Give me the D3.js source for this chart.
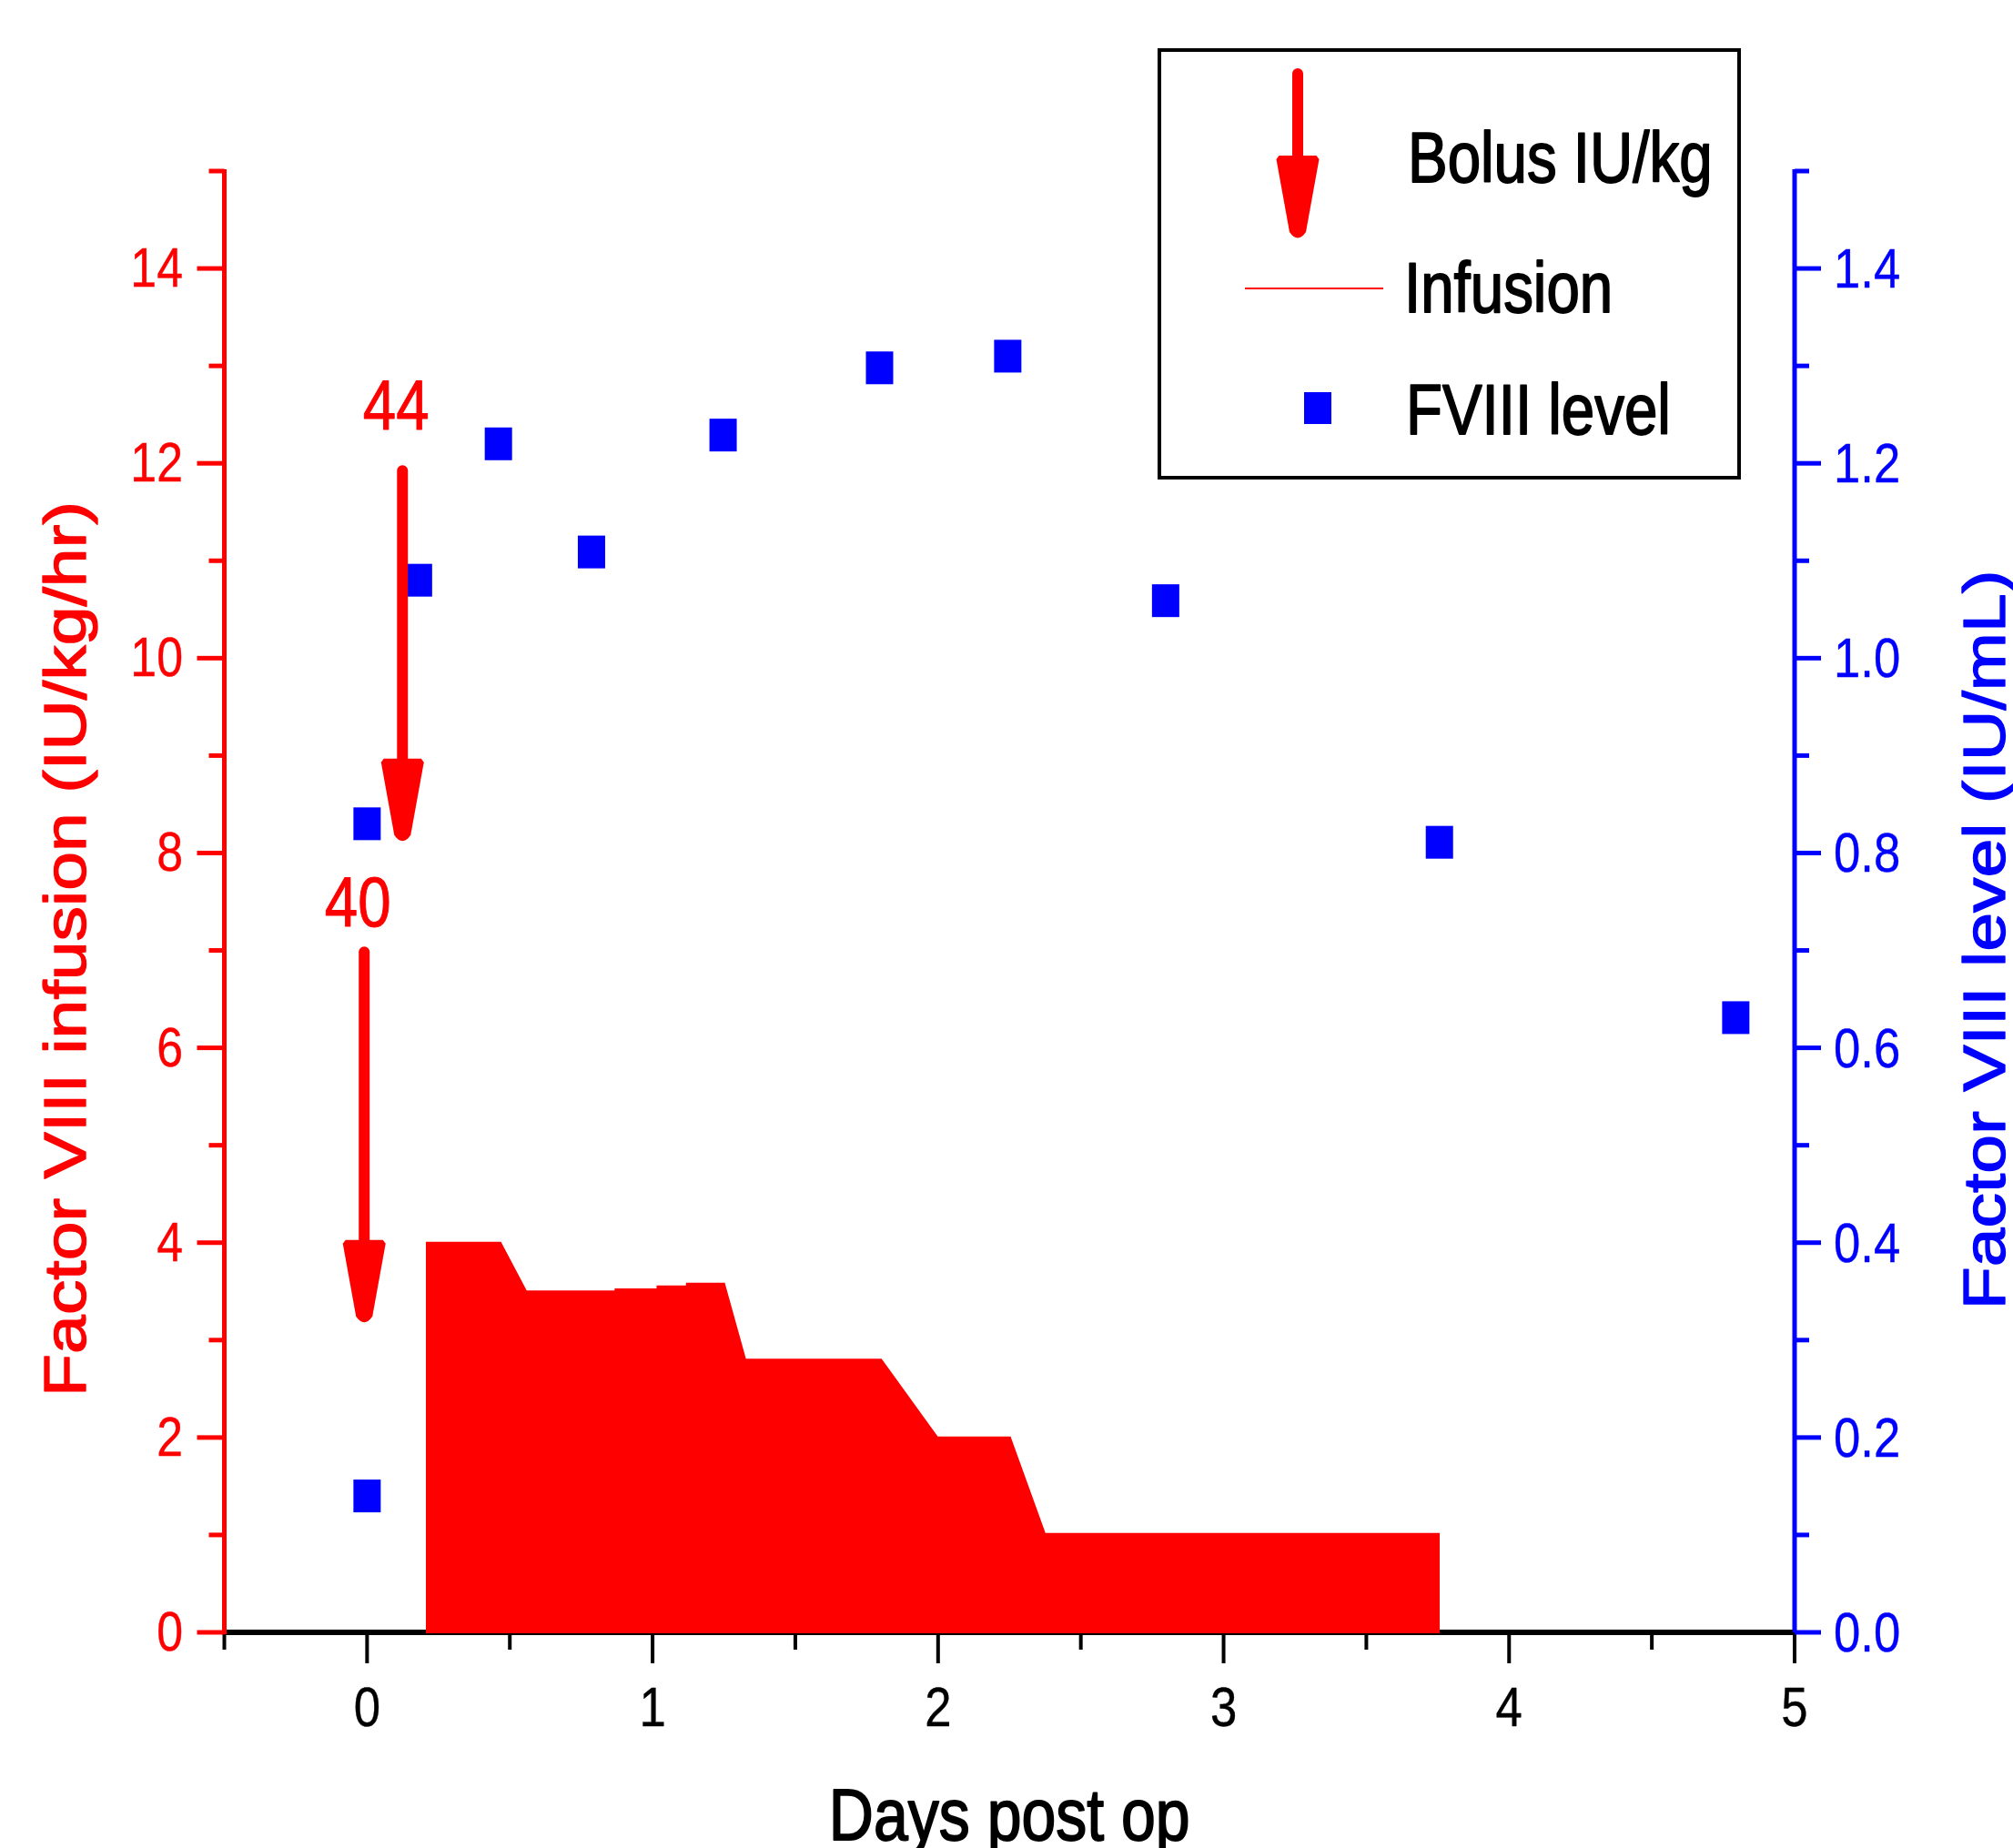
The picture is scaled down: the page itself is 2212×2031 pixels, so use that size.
<!DOCTYPE html>
<html>
<head>
<meta charset="utf-8">
<script src="https://cdn.jsdelivr.net/npm/d3@7"></script>
<style>
  html, body { margin: 0; padding: 0; background: #fff; }
  svg { display: block; }
  text { font-family: "Liberation Sans", Arial, sans-serif; }
</style>
</head>
<body>
<svg id="chart" width="2212" height="2031"></svg>
<script>
// ---------- data ----------
const infusionDays = [0.206, 0.206, 0.469, 0.559, 0.867, 0.867, 1.014, 1.014, 1.117, 1.117, 1.253, 1.327, 1.802, 1.999, 2.254, 2.376, 3.757, 3.757];
const infusionRate = [0, 4.01, 4.01, 3.51, 3.51, 3.53, 3.53, 3.56, 3.56, 3.59, 3.59, 2.81, 2.81, 2.01, 2.01, 1.02, 1.02, 0];

const levelDays   = [0, 0, 0.18, 0.46, 0.786, 1.247, 1.795, 2.244, 2.797, 3.756, 4.794];
const levelValues = [0.14, 0.83, 1.08, 1.22, 1.109, 1.229, 1.298, 1.31, 1.059, 0.811, 0.631];

const bolusDays   = [-0.01, 0.124];
const bolusDoses  = ["40", "44"];
const bolusFrom   = [7.04, 11.98];   // arrow start (left axis units)
const bolusTo     = [3.15, 8.09];    // arrow tip (left axis units)
const bolusLabelY = [7.25, 12.35];   // label baseline (left axis units)

const xTickValues = [0, 1, 2, 3, 4, 5];
const leftTickValues = [0, 2, 4, 6, 8, 10, 12, 14];
const rightTickValues = [0, 0.2, 0.4, 0.6, 0.8, 1.0, 1.2, 1.4];

const legendLabels = ["Bolus IU/kg", "Infusion", "FVIII level"];
const xTitle = "Days post op";
const leftTitle = "Factor VIII infusion (IU/kg/hr)";
const rightTitle = "Factor VIII level (IU/mL)";

// ---------- layout ----------
const RED = "#ff0000", BLUE = "#0000ff", BLACK = "#000000";
const SX = 0.85; // horizontal squeeze of the original text
const svg = d3.select("#chart");

const x = d3.scaleLinear().domain([-0.5, 5]).range([246.5, 1972]);
const yL = d3.scaleLinear().domain([0, 15]).range([1794, 188]);
const yR = d3.scaleLinear().domain([0, 1.5]).range([1794, 188]);

function sqText(g, tx, ty, str, opts) {
  const col = opts.fill || BLACK;
  return g.append("g").attr("transform", `translate(${tx},${ty}) scale(${SX},1)` + (opts.rotate ? ` rotate(${opts.rotate})` : ""))
    .append("text")
    .attr("x", 0).attr("y", 0)
    .attr("text-anchor", opts.anchor || "start")
    .attr("font-size", opts.size)
    .attr("fill", col)
    .attr("stroke", col)
    .attr("stroke-width", opts.sw == null ? 1.2 : opts.sw)
    .attr("stroke-linejoin", "round")
    .text(str);
}

// ---------- x axis ----------
const gx = svg.append("g");
gx.append("line").attr("x1", x(-0.5) - 2).attr("x2", x(5) + 2)
  .attr("y1", yL(0)).attr("y2", yL(0))
  .attr("stroke", BLACK).attr("stroke-width", 6);
d3.range(-0.5, 5.01, 0.5).forEach(v => {
  const major = Math.abs(v - Math.round(v)) < 1e-9;
  gx.append("line").attr("x1", x(v)).attr("x2", x(v))
    .attr("y1", yL(0)).attr("y2", yL(0) + (major ? 34 : 19))
    .attr("stroke", BLACK).attr("stroke-width", 4);
});
xTickValues.forEach(v => sqText(gx, x(v), 1897, String(v), { anchor: "middle", size: 62, sw: 0.4 }));
sqText(gx, (x(-0.5) + x(5)) / 2, 2022, xTitle, { anchor: "middle", size: 80, sw: 1.8 });

// ---------- left axis ----------
const gl = svg.append("g");
gl.append("line").attr("x1", x(-0.5)).attr("x2", x(-0.5))
  .attr("y1", yL(15) - 2).attr("y2", yL(0) + 2)
  .attr("stroke", RED).attr("stroke-width", 5);
d3.range(0, 15.01, 1).forEach(v => {
  const major = v % 2 === 0;
  gl.append("line").attr("x1", x(-0.5)).attr("x2", x(-0.5) - (major ? 30 : 17))
    .attr("y1", yL(v)).attr("y2", yL(v))
    .attr("stroke", RED).attr("stroke-width", 5);
});
leftTickValues.forEach(v => sqText(gl, 201, yL(v) + 20, String(v), { anchor: "end", size: 61, fill: RED, sw: 0.4 }));
sqText(gl, 94, 1043, leftTitle, { anchor: "middle", size: 77, fill: RED, rotate: -90, sw: 1.6 });

// ---------- right axis ----------
const gr = svg.append("g");
gr.append("line").attr("x1", x(5)).attr("x2", x(5))
  .attr("y1", yR(1.5) - 2).attr("y2", yR(0))
  .attr("stroke", BLUE).attr("stroke-width", 5);
d3.range(0, 15.01, 1).forEach(i => {
  const v = i / 10;
  const major = i % 2 === 0;
  gr.append("line").attr("x1", x(5)).attr("x2", x(5) + (major ? 29 : 16))
    .attr("y1", yR(v)).attr("y2", yR(v))
    .attr("stroke", BLUE).attr("stroke-width", 5);
});
rightTickValues.forEach(v => sqText(gr, 2015, yR(v) + 21, d3.format(".1f")(v), { anchor: "start", size: 62, fill: BLUE, sw: 0.4 }));
sqText(gr, 2203, 1033, rightTitle, { anchor: "middle", size: 77, fill: BLUE, rotate: -90, sw: 1.6 });

// ---------- infusion area ----------
const infusionData = infusionDays.map((d, i) => ({ d, r: infusionRate[i] }));
svg.append("path").datum(infusionData)
  .attr("d", d3.area().x(p => x(p.d)).y0(yL(0) + 1).y1(p => yL(p.r)))
  .attr("fill", RED);

// ---------- FVIII level markers ----------
const MW = 30, MH = 36;
svg.append("g").selectAll("rect").data(levelDays.map((d, i) => ({ d, v: levelValues[i] })))
  .join("rect")
  .attr("x", p => x(p.d) - MW / 2).attr("y", p => yR(p.v) - MH / 2)
  .attr("width", MW).attr("height", MH)
  .attr("fill", BLUE);

// ---------- bolus arrows ----------
function arrow(g, cx, yTop, yTip) {
  const headLen = 94, headW = 47;
  const ht = yTip - headLen;
  g.append("line").attr("x1", cx).attr("x2", cx).attr("y1", yTop + 6).attr("y2", ht + 2)
    .attr("stroke", RED).attr("stroke-width", 12).attr("stroke-linecap", "round");
  g.append("path")
    .attr("d", `M${cx - headW / 2},${ht + 4} L${cx - headW / 2 + 3},${ht} L${cx + headW / 2 - 3},${ht} L${cx + headW / 2},${ht + 4} L${cx + 9},${yTip - 10} Q${cx},${yTip + 3} ${cx - 9},${yTip - 10} Z`)
    .attr("fill", RED);
}
const gb = svg.append("g");
bolusDays.forEach((d, i) => {
  arrow(gb, x(d), yL(bolusFrom[i]), yL(bolusTo[i]));
  sqText(gb, x(d) - 7, yL(bolusLabelY[i]), bolusDoses[i], { anchor: "middle", size: 77, fill: RED, sw: 1.0 });
});

// ---------- legend ----------
const lg = svg.append("g");
lg.append("rect").attr("x", 1274).attr("y", 55).attr("width", 637).attr("height", 470)
  .attr("fill", "none").attr("stroke", BLACK).attr("stroke-width", 4);
arrow(lg, 1426, 75, 265);
lg.append("line").attr("x1", 1368).attr("x2", 1520).attr("y1", 317).attr("y2", 317)
  .attr("stroke", RED).attr("stroke-width", 2);
lg.append("rect").attr("x", 1433).attr("y", 431).attr("width", MW).attr("height", MH - 1).attr("fill", BLUE);
sqText(lg, 1547, 200, legendLabels[0], { size: 77, sw: 1.8 });
sqText(lg, 1543, 343, legendLabels[1], { size: 77, sw: 1.8 });
sqText(lg, 1545, 477, legendLabels[2], { size: 77, sw: 1.8 });
</script>
</body>
</html>
